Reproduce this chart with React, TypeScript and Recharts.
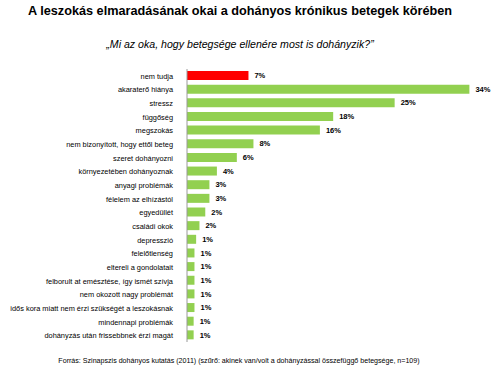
import { BarChart, Bar, XAxis, YAxis, Cell, LabelList } from "recharts";

const categories = [
  "nem tudja",
  "akaraterő hiánya",
  "stressz",
  "függőség",
  "megszokás",
  "nem bizonyított, hogy ettől beteg",
  "szeret dohányozni",
  "környezetében dohányoznak",
  "anyagi problémák",
  "félelem az elhízástól",
  "egyedüllét",
  "családi okok",
  "depresszió",
  "felelőtlenség",
  "eltereli a gondolatait",
  "felborult at emésztése, így ismét szívja",
  "nem okozott nagy problémát",
  "idős kora miatt nem érzi szükségét a leszokásnak",
  "mindennapi problémák",
  "dohányzás után frissebbnek érzi magát",
];
const values = [7.4, 34, 25, 17.6, 16, 8, 6, 3.6, 2.7, 2.7, 2.2, 1.5, 1.1, 0.9, 0.9, 0.9, 0.9, 0.9, 0.8, 0.8];
const valueLabels = ["7%", "34%", "25%", "18%", "16%", "8%", "6%", "4%", "3%", "3%", "2%", "2%", "1%", "1%", "1%", "1%", "1%", "1%", "1%", "1%"];

const data = categories.map((name, i) => ({ name, value: values[i], label: valueLabels[i] }));

const font = "'Liberation Sans', Arial, sans-serif";

function CategoryTick({ x, y, payload }: any) {
  return (
    <text x={x} y={y} dy={3} textAnchor="end" fontSize={7.4} fill="#000" fontFamily={font}>
      {payload.value}
    </text>
  );
}

export default function App() {
  return (
    <div style={{ position: "absolute", left: 0, top: 0, width: 500, height: 374, background: "#fff", fontFamily: font }}>
      <div style={{ position: "absolute", top: 4, width: 480, textAlign: "center", fontWeight: "bold", fontSize: 12.7, color: "#000" }}>
        A leszokás elmaradásának okai a dohányos krónikus betegek körében
      </div>
      <div style={{ position: "absolute", top: 38, width: 480, textAlign: "center", fontStyle: "italic", fontSize: 10.6, color: "#000" }}>
        „Mi az oka, hogy betegsége ellenére most is dohányzik?”
      </div>
      <BarChart
        width={500}
        height={374}
        data={data}
        layout="vertical"
        margin={{ top: 69, right: 14, bottom: 32, left: 0 }}
        barCategoryGap={4}
      >
        <XAxis type="number" domain={[0, 36]} hide />
        <YAxis
          type="category"
          dataKey="name"
          width={187}
          interval={0}
          tickLine={false}
          axisLine={{ stroke: "#9a9a9a" }}
          tickMargin={8}
          tick={<CategoryTick />}
        />
        <Bar dataKey="value" barSize={9} isAnimationActive={false}>
          {data.map((d, i) => (
            <Cell key={d.name} fill={i === 0 ? "#ff0000" : "#92d050"} />
          ))}
          <LabelList dataKey="label" position="right" offset={6} style={{ fontSize: 7.5, fontWeight: "bold", fill: "#000", fontFamily: font }} />
        </Bar>
      </BarChart>
      <div style={{ position: "absolute", top: 357, width: 478, textAlign: "center", fontSize: 7.1, color: "#000" }}>
        Forrás: Szinapszis dohányos kutatás (2011) (szűrő: akinek van/volt a dohányzással összefüggő betegsége, n=109)
      </div>
    </div>
  );
}
